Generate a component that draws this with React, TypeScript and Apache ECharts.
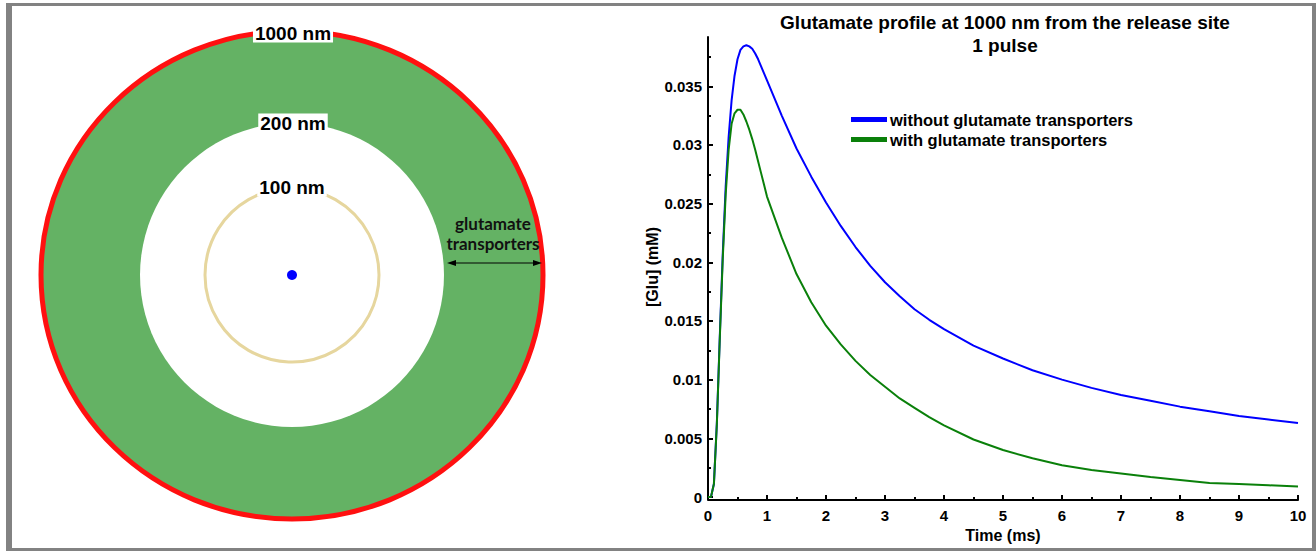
import React, { useEffect, useRef } from "react";
import * as echarts from "echarts";

// ---- Data ----
const timeMs = [0, 0.05, 0.1, 0.15, 0.2, 0.25, 0.3, 0.35, 0.4, 0.45, 0.5, 0.55, 0.6, 0.65, 0.7, 0.75, 0.8, 0.85, 0.9, 0.95, 1.0, 1.25, 1.5, 1.75, 2, 2.25, 2.5, 2.75, 3, 3.25, 3.5, 3.75, 4, 4.5, 5, 5.5, 6, 6.5, 7, 7.5, 8, 8.5, 9, 9.5, 10];
const withoutTransporters = [0, 0.0000, 0.0011, 0.0063, 0.0137, 0.0207, 0.0265, 0.0307, 0.0338, 0.0359, 0.0373, 0.0381, 0.0384, 0.0385, 0.0384, 0.0382, 0.0378, 0.0373, 0.0367, 0.0361, 0.0355, 0.0325, 0.0297, 0.0273, 0.0251, 0.0231, 0.0213, 0.0197, 0.0183, 0.0171, 0.0160, 0.0151, 0.0143, 0.0129, 0.0118, 0.0108, 0.0100, 0.0093, 0.0087, 0.0082, 0.0077, 0.0073, 0.0069, 0.0066, 0.0063];
const withTransporters = [0, 0.0000, 0.0011, 0.0062, 0.0135, 0.0203, 0.0258, 0.0296, 0.0318, 0.0327, 0.0330, 0.0330, 0.0326, 0.0320, 0.0313, 0.0305, 0.0296, 0.0286, 0.0276, 0.0266, 0.0256, 0.0221, 0.0190, 0.0166, 0.0146, 0.0130, 0.0116, 0.0104, 0.0094, 0.0084, 0.0076, 0.0068, 0.0061, 0.0049, 0.0040, 0.0033, 0.0027, 0.0023, 0.0020, 0.0017, 0.00145, 0.0012, 0.0011, 0.0010, 0.0009];
const seriesNames = ["without glutamate transporters", "with glutamate transporters"];
const yMajorTicks = [0, 0.005, 0.01, 0.015, 0.02, 0.025, 0.03, 0.035];
const yMinorTicks = [0.0025, 0.0075, 0.0125, 0.0175, 0.0225, 0.0275, 0.0325, 0.0375];
const titleLines = ["Glutamate profile at 1000 nm from the release site", "1 pulse"];
const ringLabels = ["1000 nm", "200 nm", "100 nm"];
const bandLabel = ["glutamate", "transporters"];

const FONT = "Liberation Sans, Arial, Helvetica, sans-serif";

function textEl(text: string, x: number, y: number, font: string, extra: any = {}) {
  return {
    type: "text",
    x,
    y,
    z: 10,
    style: {
      text,
      font,
      fill: "#000",
      align: "center",
      verticalAlign: "middle",
      textAlign: "center",
      textVerticalAlign: "middle",
      ...extra,
    },
  };
}

export default function App() {
  const ref = useRef<HTMLDivElement>(null);
  useEffect(() => {
    if (!ref.current) return;
    const chart = echarts.init(ref.current, null, { renderer: "svg" });
    const cx = 292;
    const cy = 275;
    const frameColor = "#828282";
    const graphic: any[] = [
      // frame
      { type: "rect", shape: { x: 6, y: 3, width: 6, height: 548 }, style: { fill: frameColor }, z: 1 },
      { type: "rect", shape: { x: 6, y: 3, width: 1310, height: 3 }, style: { fill: frameColor }, z: 1 },
      { type: "rect", shape: { x: 1312, y: 3, width: 4, height: 548 }, style: { fill: frameColor }, z: 1 },
      { type: "rect", shape: { x: 6, y: 548, width: 1310, height: 3 }, style: { fill: frameColor }, z: 1 },
      // diagram
      { type: "ellipse", shape: { cx, cy, rx: 251, ry: 244 }, style: { fill: "#64b264", stroke: "#ff1010", lineWidth: 5 }, z: 2 },
      { type: "circle", shape: { cx, cy, r: 152 }, style: { fill: "#ffffff" }, z: 3 },
      { type: "circle", shape: { cx, cy, r: 87 }, style: { fill: "none", stroke: "#e6d69e", lineWidth: 3 }, z: 4 },
      { type: "circle", shape: { cx, cy, r: 5 }, style: { fill: "#0000ff" }, z: 5 },
      textEl(ringLabels[0], cx + 1, 33, `bold 19px ${FONT}`, { backgroundColor: "#fff", padding: [0, 2] }),
      textEl(ringLabels[1], cx + 1, 123, `bold 19px ${FONT}`, { backgroundColor: "#fff", padding: [0, 2] }),
      textEl(ringLabels[2], cx, 187, `bold 19px ${FONT}`, { backgroundColor: "#fff", padding: [0, 2] }),
      textEl(bandLabel[0], 493, 223, `bold 17px Lato, sans-serif`, { fill: "#111" }),
      textEl(bandLabel[1], 493, 243, `bold 17px Lato, sans-serif`, { fill: "#111" }),
      { type: "line", shape: { x1: 450, y1: 263, x2: 539, y2: 263 }, style: { stroke: "#000", lineWidth: 1 }, z: 10 },
      { type: "polygon", shape: { points: [[447, 263], [456, 260], [456, 266]] }, style: { fill: "#000" }, z: 10 },
      { type: "polygon", shape: { points: [[542, 263], [533, 260], [533, 266]] }, style: { fill: "#000" }, z: 10 },
      // chart title
      textEl(titleLines[0], 1005, 22, `bold 19px ${FONT}`),
      textEl(titleLines[1], 1005, 45, `bold 19px ${FONT}`),
    ];

    const axisText = { color: "#000", fontWeight: "bold", fontSize: 15, fontFamily: FONT };

    chart.setOption({
      animation: false,
      backgroundColor: "#ffffff",
      graphic,
      grid: { left: 708, right: 18, top: 37, bottom: 54, containLabel: false, outerBoundsMode: "none" },
      legend: {
        orient: "vertical",
        left: 846,
        top: 105,
        icon: "rect",
        itemWidth: 36,
        itemHeight: 5,
        itemGap: 1,
        textStyle: { color: "#000", fontWeight: "bold", fontSize: 16.5, fontFamily: FONT, lineHeight: 19, padding: [0, 0, 0, -2] },
        data: seriesNames,
      },
      xAxis: {
        type: "value",
        min: 0,
        max: 10,
        interval: 1,
        offset: 3,
        name: "Time (ms)",
        nameLocation: "middle",
        nameGap: 27,
        nameTextStyle: { ...axisText, fontSize: 16 },
        axisLine: { show: true, onZero: false, lineStyle: { color: "#000", width: 2 } },
        axisTick: { show: true, inside: true, length: 5, lineStyle: { color: "#000", width: 2 } },
        minorTick: { show: true, splitNumber: 2, length: 3, lineStyle: { color: "#000", width: 2 } },
        axisLabel: { ...axisText, margin: 8 },
        splitLine: { show: false },
      },
      yAxis: [
        {
          type: "value",
          min: 0,
          max: 0.0392,
          position: "left",
          name: "[Glu] (mM)",
          nameLocation: "middle",
          nameGap: 43,
          nameTextStyle: { ...axisText, fontSize: 16 },
          axisLine: { show: true, onZero: false, lineStyle: { color: "#000", width: 2 } },
          axisTick: { show: true, inside: true, length: 5, customValues: yMajorTicks, lineStyle: { color: "#000", width: 2 } },
          axisLabel: { ...axisText, margin: 6, customValues: yMajorTicks },
          splitLine: { show: false },
        },
        {
          type: "value",
          min: 0,
          max: 0.0392,
          position: "left",
          axisLine: { show: false },
          axisTick: { show: true, inside: true, length: 3, customValues: yMinorTicks, lineStyle: { color: "#000", width: 2 } },
          axisLabel: { show: false },
          splitLine: { show: false },
        },
      ],
      series: [
        {
          name: seriesNames[0],
          type: "line",
          data: timeMs.map((t, i) => [t, withoutTransporters[i]]),
          showSymbol: false,
          smooth: false,
          color: "#0000ff",
          lineStyle: { color: "#0000ff", width: 2 },
          z: 3,
        },
        {
          name: seriesNames[1],
          type: "line",
          data: timeMs.map((t, i) => [t, withTransporters[i]]),
          showSymbol: false,
          smooth: false,
          color: "#0a800a",
          lineStyle: { color: "#0a800a", width: 2 },
          z: 4,
        },
      ],
    });
    return () => chart.dispose();
  }, []);
  return (
    <div
      ref={ref}
      style={{ position: "fixed", left: 0, top: 0, width: 1316, height: 551, background: "#fff" }}
    />
  );
}
